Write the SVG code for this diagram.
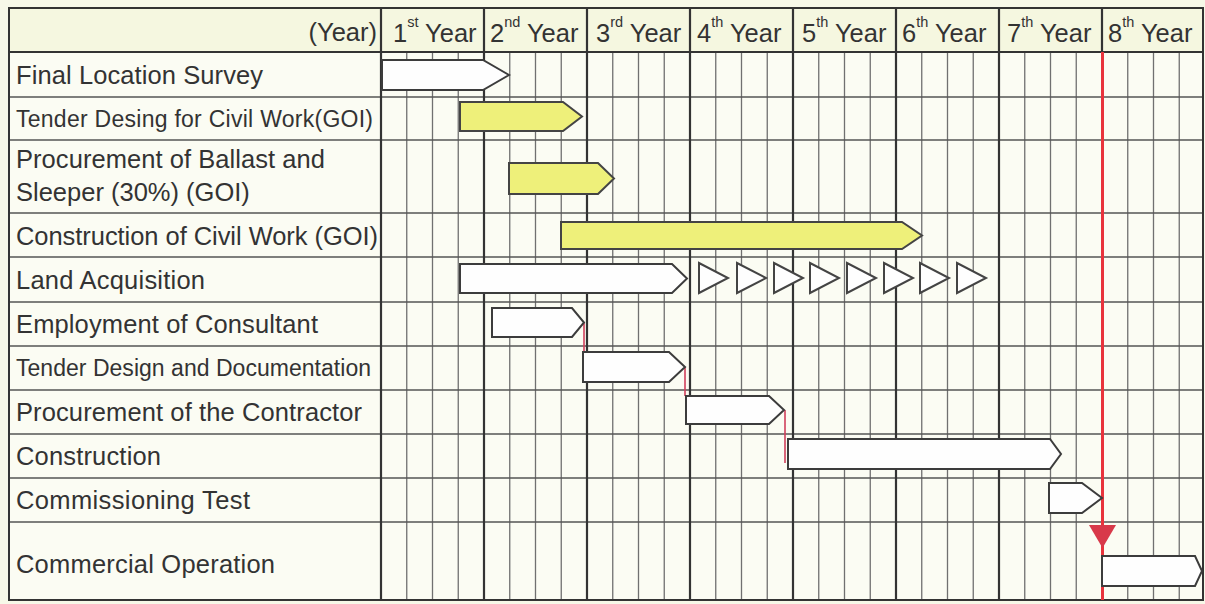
<svg xmlns="http://www.w3.org/2000/svg" width="1205" height="604" viewBox="0 0 1205 604">
<style>
.lbl{font-family:"Liberation Sans",Arial,sans-serif;font-size:25.5px;fill:#333}
.sm{font-size:23px}
.hd{font-family:"Liberation Sans",Arial,sans-serif;font-size:25.5px;fill:#333}
.sup{font-size:14.5px}
.q{stroke:#707070;stroke-width:1.3;fill:none}
.r{stroke:#555;stroke-width:1.6;fill:none}
.y{stroke:#333;stroke-width:2.2;fill:none}
.bar{fill:#fefefe;stroke:#3c3c3c;stroke-width:2;stroke-linejoin:miter}
.ybar{fill:#eef07a;stroke:#444;stroke-width:2}
.tri{fill:#fefefe;stroke:#444;stroke-width:2}
.link{stroke:#d0405c;stroke-width:1.6;fill:none}
</style>
<rect x="0" y="0" width="1205" height="604" fill="#f7f8e8"/>
<g id="grid">
<rect x="9" y="8" width="1194" height="592" fill="#fbfcf3"/>
<rect x="9" y="8" width="1194" height="44" fill="#f5f7e0"/>
<path class="q" d="M406.75 52V600M432.5 52V600M458.25 52V600M509.75 52V600M535.5 52V600M561.25 52V600M612.75 52V600M638.5 52V600M664.25 52V600M715.75 52V600M741.5 52V600M767.25 52V600M818.75 52V600M844.5 52V600M870.25 52V600M921.75 52V600M947.5 52V600M973.25 52V600M1024.75 52V600M1050.5 52V600M1076.25 52V600M1127.75 52V600M1153.5 52V600M1179.25 52V600"/>
<path class="r" d="M9 97H1203M9 140H1203M9 213H1203M9 257H1203M9 302H1203M9 346H1203M9 390H1203M9 434H1203M9 478H1203M9 522H1203"/>
<path class="y" d="M381 8V600M484 8V600M587 8V600M690 8V600M793 8V600M896 8V600M999 8V600M1102 8V52M9 52H1203"/>
<rect x="9" y="8" width="1194" height="592" fill="none" stroke="#333" stroke-width="2"/>
</g>
<g id="header">
<text class="hd" x="377" y="41" text-anchor="end">(Year)</text>
<text class="hd" x="393" y="42">1<tspan class="sup" dy="-15">st</tspan><tspan dy="15"> Year</tspan></text>
<text class="hd" x="490" y="42">2<tspan class="sup" dy="-15">nd</tspan><tspan dy="15"> Year</tspan></text>
<text class="hd" x="596" y="42">3<tspan class="sup" dy="-15">rd</tspan><tspan dy="15"> Year</tspan></text>
<text class="hd" x="697" y="42">4<tspan class="sup" dy="-15">th</tspan><tspan dy="15"> Year</tspan></text>
<text class="hd" x="802" y="42">5<tspan class="sup" dy="-15">th</tspan><tspan dy="15"> Year</tspan></text>
<text class="hd" x="902" y="42">6<tspan class="sup" dy="-15">th</tspan><tspan dy="15"> Year</tspan></text>
<text class="hd" x="1007" y="42">7<tspan class="sup" dy="-15">th</tspan><tspan dy="15"> Year</tspan></text>
<text class="hd" x="1108" y="42">8<tspan class="sup" dy="-15">th</tspan><tspan dy="15"> Year</tspan></text>
</g>
<g id="connectors">
<path class="link" d="M584 323V352M685 367V396M785 410V463"/>
<path d="M1102.5 52V600" stroke="#e8333c" stroke-width="3" fill="none"/>
<polygon points="1089,525 1116,525 1102.5,548" fill="#d8394a"/>
</g>
<g id="task-final-location-survey">
<text class="lbl" x="16" y="84" textLength="247">Final Location Survey</text>
<polygon class="bar" points="382,60 483,60 509,75 483,90 382,90"/>
</g>
<g id="task-tender-desing-civil">
<text class="lbl sm" x="16" y="127" textLength="357">Tender Desing for Civil Work(GOI)</text>
<polygon class="ybar" points="460,102 563,102 582,116.5 563,131 460,131"/>
</g>
<g id="task-procurement-ballast">
<text class="lbl" x="16" y="168" textLength="309">Procurement of Ballast and</text>
<text class="lbl" x="16" y="201">Sleeper (30%) (GOI)</text>
<polygon class="ybar" points="509,163 598,163 614,178.5 598,194 509,194"/>
</g>
<g id="task-construction-civil">
<text class="lbl" x="16" y="245" textLength="362">Construction of Civil Work (GOI)</text>
<polygon class="ybar" points="561,222 902,222 922,235.5 902,249 561,249"/>
</g>
<g id="task-land-acquisition">
<text class="lbl" x="16" y="289" textLength="189">Land Acquisition</text>
<polygon class="bar" points="460,264 672,264 687,278.5 672,293 460,293"/>
<polygon class="tri" points="699,263 728,278 699,293"/>
<polygon class="tri" points="737,263 766,278 737,293"/>
<polygon class="tri" points="774,263 803,278 774,293"/>
<polygon class="tri" points="810,263 839,278 810,293"/>
<polygon class="tri" points="847,263 876,278 847,293"/>
<polygon class="tri" points="884,263 913,278 884,293"/>
<polygon class="tri" points="920,263 949,278 920,293"/>
<polygon class="tri" points="957,263 986,278 957,293"/>
</g>
<g id="task-employment-consultant">
<text class="lbl" x="16" y="333" textLength="302">Employment of Consultant</text>
<polygon class="bar" points="492,308 572,308 584,322.5 572,337 492,337"/>
</g>
<g id="task-tender-design-documentation">
<text class="lbl sm" x="16" y="376" textLength="355">Tender Design and Documentation</text>
<polygon class="bar" points="583,352 669,352 685,367 669,382 583,382"/>
</g>
<g id="task-procurement-contractor">
<text class="lbl" x="16" y="421" textLength="346">Procurement of the Contractor</text>
<polygon class="bar" points="686,396 769,396 784,410 769,424 686,424"/>
</g>
<g id="task-construction">
<text class="lbl" x="16" y="465" textLength="145">Construction</text>
<polygon class="bar" points="788,439 1050,439 1061,454 1050,469 788,469"/>
</g>
<g id="task-commissioning-test">
<text class="lbl" x="16" y="509" textLength="234">Commissioning Test</text>
<polygon class="bar" points="1049,483 1082,483 1102,498 1082,513 1049,513"/>
</g>
<g id="task-commercial-operation">
<text class="lbl" x="16" y="573" textLength="259">Commercial Operation</text>
<polygon class="bar" points="1102,556 1195,556 1202,571 1195,586 1102,586"/>
</g>
</svg>
